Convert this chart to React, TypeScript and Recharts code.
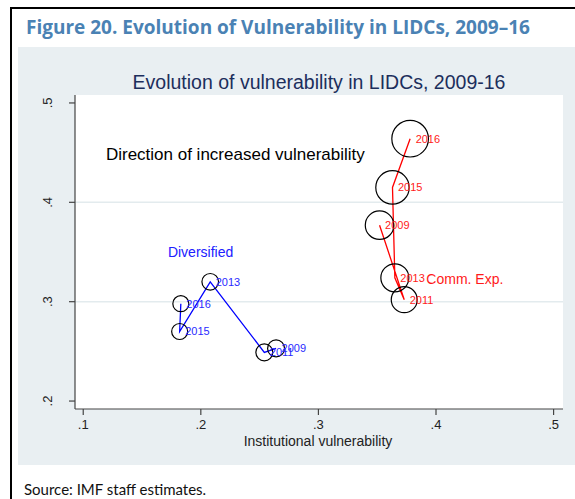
import React from 'react';
import {
  ScatterChart,
  Scatter,
  XAxis,
  YAxis,
  CartesianGrid,
  ReferenceLine,
  ReferenceDot,
} from 'recharts';

// ---- Data ----
const years = ['2009', '2011', '2013', '2015', '2016'];

// Diversified LIDCs
const diversifiedInstitutional = [0.264, 0.254, 0.208, 0.182, 0.183];
const diversifiedVulnerability = [0.253, 0.249, 0.320, 0.270, 0.298];
const diversifiedWeight = [7.2, 7.2, 6.9, 6.4, 6.4];

// Commodity exporters
const commodityInstitutional = [0.352, 0.373, 0.365, 0.363, 0.378];
const commodityVulnerability = [0.377, 0.302, 0.324, 0.415, 0.464];
const commodityWeight = [20.4, 16.9, 19.6, 27.9, 33.5];

const xTicks = [0.1, 0.2, 0.3, 0.4, 0.5];
const yTicks = [0.2, 0.3, 0.4, 0.5];
const gridValues = [0.3, 0.4];

const figureTitle = 'Figure 20. Evolution of Vulnerability in LIDCs, 2009\u201316';
const chartTitle = 'Evolution of vulnerability in LIDCs, 2009-16';
const xTitle = 'Institutional vulnerability';
const sourceNote = 'Source: IMF staff estimates.';

const build = (xs: number[], ys: number[], ws: number[]) =>
  years.map((year, i) => ({ year, x: xs[i], y: ys[i], w: ws[i] }));

const diversifiedData = build(diversifiedInstitutional, diversifiedVulnerability, diversifiedWeight);
const commodityData = build(commodityInstitutional, commodityVulnerability, commodityWeight);

const fmt = (v: number) => String(v).replace(/^0/, '');
const FONT = '"Liberation Sans", Arial, sans-serif';

const makeShape = (labelColor: string) => (props: any) => {
  const { cx, cy, payload } = props;
  const r = Math.sqrt(payload.w * 10);
  return (
    <g>
      <circle cx={cx} cy={cy} r={r} fill="none" stroke="#000" strokeWidth={1.2} />
      <text
        x={cx + 5.5}
        y={cy}
        dominantBaseline="central"
        fontSize={11}
        fontFamily={FONT}
        fill={labelColor}
      >
        {payload.year}
      </text>
    </g>
  );
};

const YTick = (props: any) => {
  const { x, y, payload } = props;
  const cx = x - 21;
  return (
    <text
      x={cx}
      y={y}
      transform={`rotate(-90, ${cx}, ${y})`}
      textAnchor="middle"
      dominantBaseline="central"
      fontSize={13}
      fontFamily={FONT}
      fill="#222"
    >
      {fmt(payload.value)}
    </text>
  );
};

const XTick = (props: any) => {
  const { x, y, payload } = props;
  return (
    <text x={x} y={y} dy="0.71em" textAnchor="middle" fontSize={13} fontFamily={FONT} fill="#222">
      {fmt(payload.value)}
    </text>
  );
};

const annotation = (text: string, color: string, size: number) => (p: any) => (
  <text x={p.cx} y={p.cy} dominantBaseline="central" fontSize={size} fontFamily={FONT} fill={color}>
    {text}
  </text>
);

export default function App() {
  return (
    <div
      style={{
        position: 'absolute',
        left: 0,
        top: 0,
        width: 575,
        height: 499,
        background: '#fff',
        overflow: 'hidden',
      }}
    >
      {/* outer border */}
      <div
        style={{
          position: 'absolute',
          left: 10,
          top: 7,
          width: 565,
          height: 492,
          borderTop: '2px solid #000',
          borderLeft: '2px solid #000',
          boxSizing: 'border-box',
        }}
      />
      {/* figure title */}
      <div
        style={{
          position: 'absolute',
          left: 26,
          top: 15,
          fontFamily: '"Open Sans", Lato, sans-serif',
          fontWeight: 700,
          fontSize: 19,
          lineHeight: '24px',
          color: '#4a82b4',
          whiteSpace: 'nowrap',
        }}
      >
        {figureTitle}
      </div>
      {/* panel */}
      <div
        style={{
          position: 'absolute',
          left: 18,
          top: 47,
          width: 557,
          height: 418,
          background: '#e9eff2',
        }}
      />
      {/* chart title */}
      <div
        style={{
          position: 'absolute',
          left: 0,
          width: 638,
          top: 70,
          textAlign: 'center',
          fontFamily: FONT,
          fontSize: 19.5,
          lineHeight: '24px',
          color: '#1c2e5c',
          whiteSpace: 'nowrap',
        }}
      >
        {chartTitle}
      </div>
      <div style={{ position: 'absolute', left: 0, top: 0 }}>
        <ScatterChart
          width={575}
          height={499}
          margin={{ top: 95, right: 12, bottom: 60, left: 35 }}
        >
          <CartesianGrid fill="#fff" horizontal={false} vertical={false} stroke="none" />
          {gridValues.map((v) => (
            <ReferenceLine key={v} y={v} stroke="#e3ebee" strokeWidth={1.5} />
          ))}
          <XAxis
            type="number"
            dataKey="x"
            domain={[0.093, 0.508]}
            allowDataOverflow
            ticks={xTicks}
            tick={<XTick />}
            tickSize={6}
            tickMargin={5}
            height={30}
            axisLine={{ stroke: '#444', strokeWidth: 1.2 }}
            tickLine={{ stroke: '#444', strokeWidth: 1.2 }}
          />
          <YAxis
            type="number"
            dataKey="y"
            domain={[0.192, 0.508]}
            allowDataOverflow
            ticks={yTicks}
            tick={<YTick />}
            tickSize={6}
            tickMargin={0}
            width={40}
            axisLine={{ stroke: '#444', strokeWidth: 1.2 }}
            tickLine={{ stroke: '#444', strokeWidth: 1.2 }}
          />
          <Scatter
            name="Diversified"
            data={diversifiedData}
            line={{ stroke: '#0000ff', strokeWidth: 1.3 }}
            shape={makeShape('#2a2aff')}
            isAnimationActive={false}
          />
          <Scatter
            name="Comm. Exp."
            data={commodityData}
            line={{ stroke: '#ff0000', strokeWidth: 1.3 }}
            shape={makeShape('#ff1a1a')}
            isAnimationActive={false}
          />
          <ReferenceDot
            x={0.1193}
            y={0.4482}
            r={0}
            shape={annotation('Direction of increased vulnerability', '#000', 17)}
          />
          <ReferenceDot x={0.172} y={0.3495} r={0} shape={annotation('Diversified', '#2020ff', 14)} />
          <ReferenceDot x={0.3918} y={0.3229} r={0} shape={annotation('Comm. Exp.', '#ff1a1a', 14)} />
        </ScatterChart>
      </div>
      {/* x axis title */}
      <div
        style={{
          position: 'absolute',
          left: 0,
          width: 636,
          top: 432,
          textAlign: 'center',
          fontFamily: FONT,
          fontSize: 14,
          lineHeight: '18px',
          color: '#222',
          whiteSpace: 'nowrap',
        }}
      >
        {xTitle}
      </div>
      {/* source */}
      <div
        style={{
          position: 'absolute',
          left: 24,
          top: 479,
          fontFamily: 'Lato, "Open Sans", sans-serif',
          fontSize: 15,
          lineHeight: '20px',
          color: '#111',
          whiteSpace: 'nowrap',
        }}
      >
        {sourceNote}
      </div>
    </div>
  );
}
